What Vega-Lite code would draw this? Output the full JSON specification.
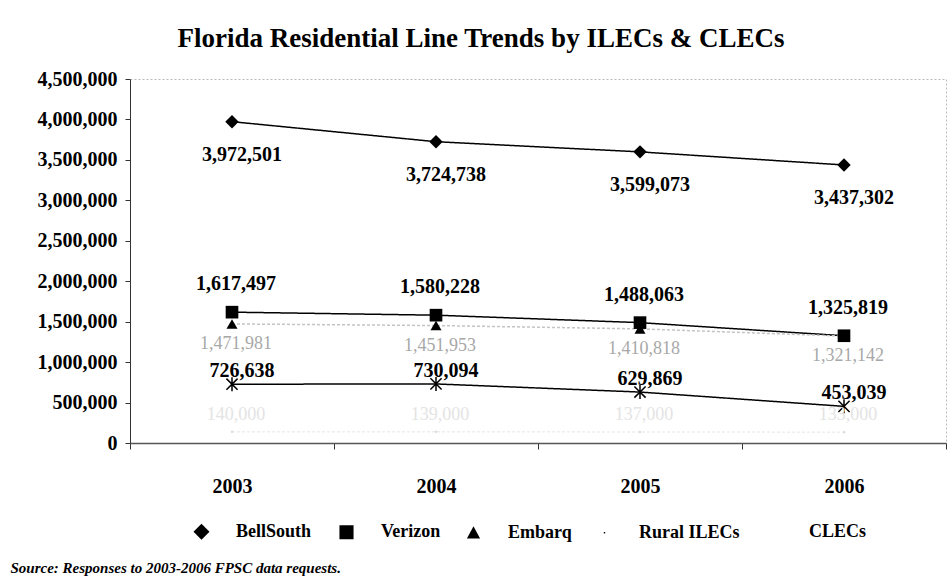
{
  "$schema": "https://vega.github.io/schema/vega-lite/v6.json",
  "width": 816,
  "height": 364,
  "autosize": {"type": "none"},
  "padding": {"left": 130, "top": 79, "right": 6, "bottom": 137},
  "background": "white",
  "config": {
    "view": {"stroke": "#bbbbbb", "strokeDash": [2, 2], "strokeWidth": 1},
    "font": "Liberation Serif"
  },
  "title": {
    "text": "Florida Residential Line Trends by ILECs & CLECs",
    "font": "Liberation Serif",
    "fontSize": 27,
    "fontWeight": "bold",
    "color": "black",
    "anchor": "middle",
    "dx": -57,
    "offset": 16
  },
  "data": {
    "values": [
      {"year": "2003", "series": "BellSouth", "value": 3972501},
      {"year": "2004", "series": "BellSouth", "value": 3724738},
      {"year": "2005", "series": "BellSouth", "value": 3599073},
      {"year": "2006", "series": "BellSouth", "value": 3437302},
      {"year": "2003", "series": "Verizon", "value": 1617497},
      {"year": "2004", "series": "Verizon", "value": 1580228},
      {"year": "2005", "series": "Verizon", "value": 1488063},
      {"year": "2006", "series": "Verizon", "value": 1325819},
      {"year": "2003", "series": "Embarq", "value": 1471981},
      {"year": "2004", "series": "Embarq", "value": 1451953},
      {"year": "2005", "series": "Embarq", "value": 1410818},
      {"year": "2006", "series": "Embarq", "value": 1321142},
      {"year": "2003", "series": "Rural ILECs", "value": 140000},
      {"year": "2004", "series": "Rural ILECs", "value": 139000},
      {"year": "2005", "series": "Rural ILECs", "value": 137000},
      {"year": "2006", "series": "Rural ILECs", "value": 133000},
      {"year": "2003", "series": "CLECs", "value": 726638},
      {"year": "2004", "series": "CLECs", "value": 730094},
      {"year": "2005", "series": "CLECs", "value": 629869},
      {"year": "2006", "series": "CLECs", "value": 453039}
    ]
  },
  "encoding": {
    "x": {
      "field": "year",
      "type": "ordinal",
      "scale": {"type": "band", "paddingInner": 0, "paddingOuter": 0},
      "bandPosition": 0.5,
      "axis": {
        "tickBand": "extent",
        "labelAngle": 0,
        "labelFont": "Liberation Serif",
        "labelFontSize": 20,
        "labelFontWeight": "bold",
        "labelColor": "black",
        "labelPadding": 27,
        "domainColor": "#555555",
        "domainWidth": 1.5,
        "tickColor": "#333333",
        "tickSize": 6,
        "grid": false,
        "title": "Source: Responses to 2003-2006 FPSC data requests.",
        "titleFont": "Liberation Serif",
        "titleFontSize": 15,
        "titleFontWeight": "bold",
        "titleFontStyle": "italic",
        "titleColor": "black",
        "titleX": -120,
        "titleY": 124,
        "titleAlign": "left",
        "titleAnchor": "start",
        "titleBaseline": "middle"
      }
    },
    "y": {
      "field": "value",
      "type": "quantitative",
      "scale": {"domain": [0, 4500000], "nice": false},
      "axis": {
        "tickCount": 9,
        "labelExpr": "format(datum.value, ',')",
        "labelFont": "Liberation Serif",
        "labelFontSize": 20,
        "labelFontWeight": "bold",
        "labelColor": "black",
        "labelPadding": 8,
        "domainColor": "#333333",
        "tickColor": "#333333",
        "tickSize": 5,
        "grid": false,
        "title": null
      }
    }
  },
  "layer": [
    {
      "mark": {"type": "line", "strokeWidth": 1.5},
      "encoding": {
        "color": {
          "field": "series",
          "type": "nominal",
          "scale": {"domain": ["CLECs", "BellSouth", "Verizon", "Embarq", "Rural ILECs"], "range": ["black", "black", "black", "#c4c4c4", "#eeeeee"]},
          "legend": null
        },
        "strokeDash": {
          "field": "series",
          "type": "nominal",
          "scale": {"domain": ["CLECs", "BellSouth", "Verizon", "Embarq", "Rural ILECs"], "range": [[1, 0], [1, 0], [1, 0], [3, 2], [3, 2]]},
          "legend": null
        }
      }
    },
    {
      "transform": [{"filter": "datum.series === 'BellSouth'"}],
      "mark": {"type": "point", "shape": "diamond", "filled": true, "color": "black", "size": 180, "opacity": 1}
    },
    {
      "transform": [{"filter": "datum.series === 'Verizon'"}],
      "mark": {"type": "point", "shape": "square", "filled": true, "color": "black", "size": 160, "opacity": 1}
    },
    {
      "transform": [{"filter": "datum.series === 'Embarq'"}],
      "mark": {"type": "point", "shape": "triangle-up", "filled": true, "color": "black", "size": 121, "opacity": 1}
    },
    {
      "transform": [{"filter": "datum.series === 'Rural ILECs'"}],
      "mark": {"type": "point", "shape": "circle", "filled": true, "color": "#dddddd", "size": 6, "opacity": 1}
    },
    {
      "transform": [{"filter": "datum.series === 'CLECs'"}],
      "mark": {"type": "point", "shape": "M0,-1V1M-0.8,-0.8L0.8,0.8M-0.8,0.8L0.8,-0.8", "filled": false, "color": "black", "strokeWidth": 1.5, "size": 196, "opacity": 1}
    },
    {
      "transform": [{"filter": "datum.series === 'BellSouth'"}],
      "mark": {"type": "text", "font": "Liberation Serif", "fontSize": 20, "fontWeight": "bold", "color": "black", "dx": 10, "dy": 33, "baseline": "middle"},
      "encoding": {"text": {"field": "value", "type": "quantitative", "format": ","}}
    },
    {
      "transform": [{"filter": "datum.series === 'Verizon'"}],
      "mark": {"type": "text", "font": "Liberation Serif", "fontSize": 20, "fontWeight": "bold", "color": "black", "dx": 4, "dy": -28, "baseline": "middle"},
      "encoding": {"text": {"field": "value", "type": "quantitative", "format": ","}}
    },
    {
      "transform": [{"filter": "datum.series === 'Embarq'"}],
      "mark": {"type": "text", "font": "Liberation Serif", "fontSize": 18, "fontWeight": "normal", "color": "#a8a8a8", "dx": 4, "dy": 20, "baseline": "middle"},
      "encoding": {"text": {"field": "value", "type": "quantitative", "format": ","}}
    },
    {
      "transform": [{"filter": "datum.series === 'Rural ILECs'"}],
      "mark": {"type": "text", "font": "Liberation Serif", "fontSize": 18, "fontWeight": "normal", "color": "#e4e4e4", "dx": 4, "dy": -17, "baseline": "middle"},
      "encoding": {"text": {"field": "value", "type": "quantitative", "format": ","}}
    },
    {
      "transform": [{"filter": "datum.series === 'CLECs'"}],
      "mark": {"type": "text", "font": "Liberation Serif", "fontSize": 20, "fontWeight": "bold", "color": "black", "dx": 10, "dy": -13, "baseline": "middle"},
      "encoding": {"text": {"field": "value", "type": "quantitative", "format": ","}}
    },
    {
      "mark": {"type": "point", "filled": true, "opacity": 0, "color": "black", "stroke": "black", "strokeWidth": 1.5},
      "encoding": {
        "shape": {
          "field": "series",
          "type": "nominal",
          "scale": {
            "domain": ["BellSouth", "Verizon", "Embarq", "Rural ILECs", "CLECs"],
            "range": [
              "M-1,0H1M0,-0.34L0.34,0L0,0.34L-0.34,0Z",
              "M-1,0H1M-0.3,-0.3H0.3V0.3H-0.3Z",
              "M0,-0.28L0.28,0.24H-0.28Z",
              "M-0.03,-0.03H0.03V0.03H-0.03Z",
              "M-1,0H1M0,-0.36V0.36M-0.3,-0.3L0.3,0.3M-0.3,0.3L0.3,-0.3"
            ]
          },
          "legend": {
            "title": null,
            "orient": "none",
            "legendX": 47,
            "legendY": 428,
            "direction": "horizontal",
            "symbolSize": 2209,
            "symbolStrokeWidth": 1.5,
            "symbolStrokeColor": "black",
            "symbolFillColor": "black",
            "symbolOpacity": 1,
            "labelFont": "Liberation Serif",
            "labelFontSize": 18,
            "labelFontWeight": "bold",
            "labelColor": "black",
            "labelOffset": 10,
            "columnPadding": 8
          }
        }
      }
    }
  ]
}
